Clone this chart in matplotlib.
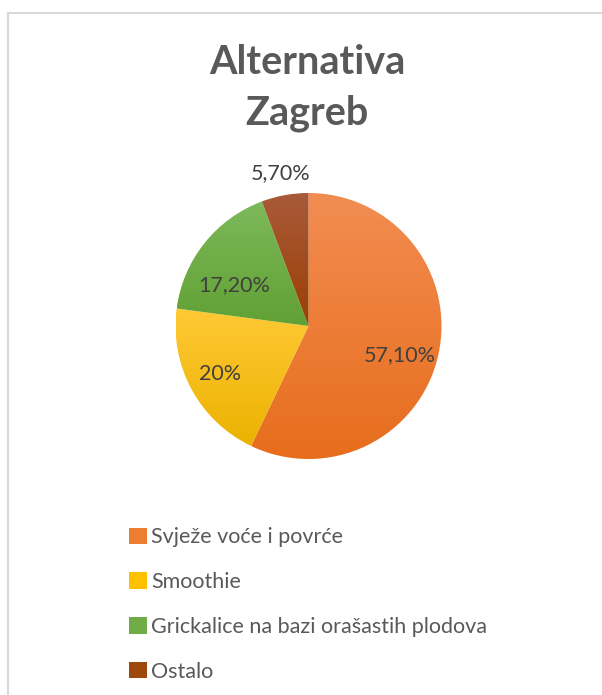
import numpy as np
import matplotlib.pyplot as plt
from matplotlib.colors import LinearSegmentedColormap
from matplotlib.lines import Line2D
from matplotlib.patches import Patch

plt.rcParams['font.family'] = ['Lato', 'DejaVu Sans']

title = "Alternativa\nZagreb"
categories = ["Svježe voće i povrće", "Smoothie",
              "Grickalice na bazi orašastih plodova", "Ostalo"]
values = [57.1, 20, 17.2, 5.7]
value_labels = ["57,10%", "20%", "17,20%", "5,70%"]

# light (top) -> dark (bottom) per slice
top_colors = ["#F28D52", "#FFC935", "#7DB95A", "#A95A3A"]
bottom_colors = ["#E76D1C", "#EBB200", "#61A034", "#9B3F04"]
base_colors = ["#ED7D31", "#FFC000", "#70AD47", "#9E480E"]
label_r = [0.72, 0.76, 0.64, 1.17]
label_dang = [-4.8, 0, 9.5, 0]

W, H = 602, 695
fig = plt.figure(figsize=(W / 100, H / 100), dpi=100)

# chart frame (only top and left edges are visible in the crop)
fig.add_artist(Line2D([8 / W, 8 / W], [0, 1 - 13 / H], color="#D9D9D9", lw=1.5))
fig.add_artist(Line2D([8 / W, 1], [1 - 13 / H, 1 - 13 / H], color="#D9D9D9", lw=1.5))

fig.text(307 / W, 1 - 88 / H, title, ha="center", va="center", fontsize=28.5,
         fontweight="bold", color="#595959", linespacing=1.45)

cx, cy, r = 308.5, 326, 133
ax = fig.add_axes([(cx - r) / W, (H - cy - r) / H, 2 * r / W, 2 * r / H])
wedges, _ = ax.pie(values, startangle=90, counterclock=False,
                   colors=base_colors, radius=1)
ax.set_aspect("auto")
ax.axis("off")

grad = np.linspace(0, 1, 256).reshape(-1, 1)
for w, c0, c1 in zip(wedges, top_colors, bottom_colors):
    ext = w.get_path().get_extents()
    cmap = LinearSegmentedColormap.from_list("g", [c0, c1])
    im = ax.imshow(grad, cmap=cmap, aspect="auto",
                   extent=(ext.x0, ext.x1, ext.y0, ext.y1), origin="upper",
                   zorder=2)
    im.set_clip_path(w)
    w.set_alpha(0)

ax.set_xlim(-1, 1)
ax.set_ylim(-1, 1)

cum = np.cumsum([0] + values[:-1])
total = sum(values)
for start, v, lab, rr, da in zip(cum, values, value_labels, label_r, label_dang):
    ang = np.deg2rad(90 - (start + v / 2) / total * 360 + da)
    ax.text(rr * np.cos(ang), rr * np.sin(ang), lab, ha="center", va="center",
            fontsize=15.5, color="#404040", zorder=5, clip_on=False)

handles = [Patch(facecolor=c, edgecolor="none") for c in base_colors]
fig.legend(handles, categories, loc="upper left",
           bbox_to_anchor=(110 / W, 1 - 508 / H), frameon=False,
           fontsize=15.5, labelcolor="#595959", handlelength=0.8,
           handleheight=0.8, handletextpad=0.2, labelspacing=1.15)

fig.savefig("out.png", dpi=100)
